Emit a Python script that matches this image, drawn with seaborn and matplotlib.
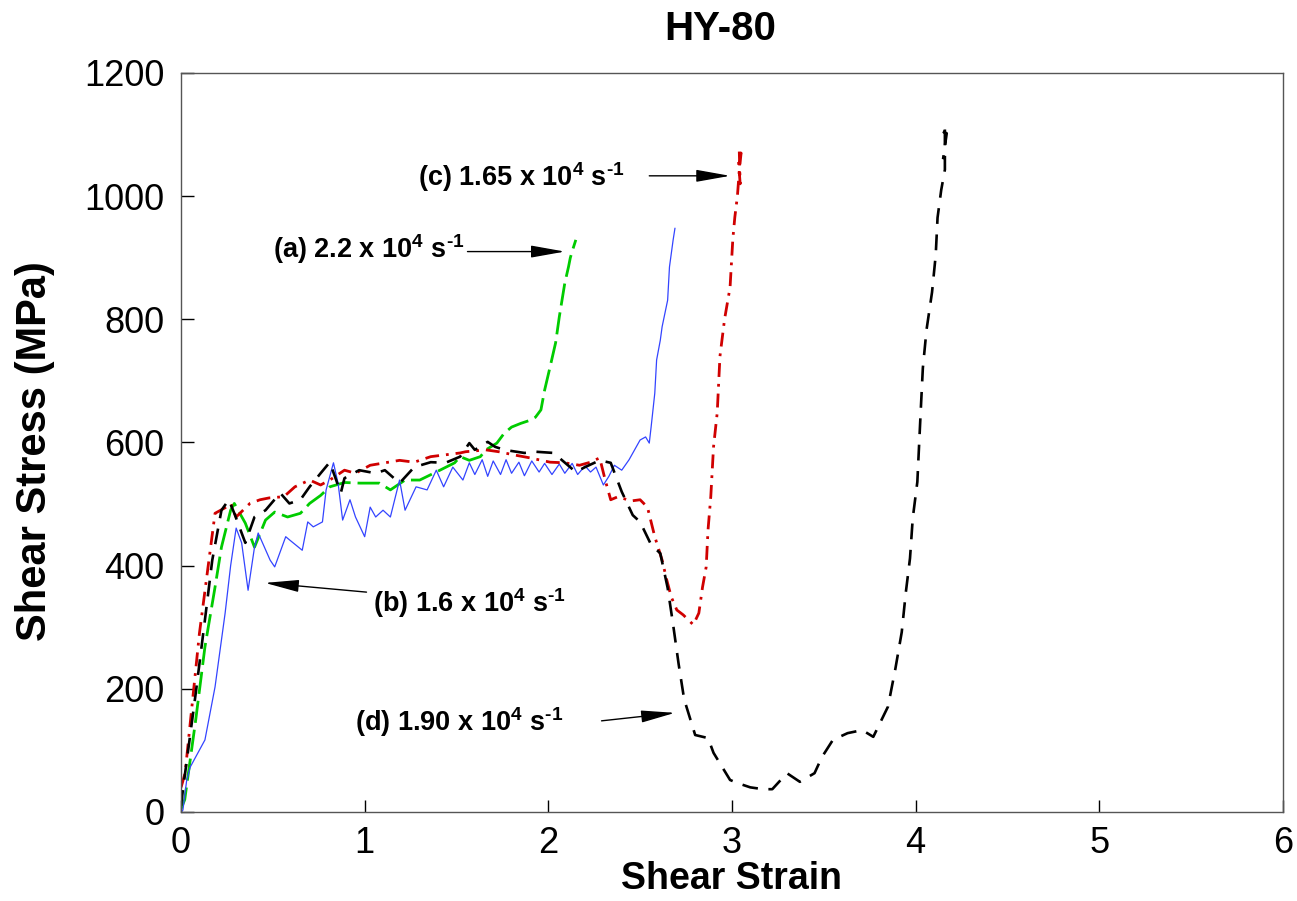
import matplotlib
matplotlib.use('Agg')
import matplotlib.pyplot as plt
import seaborn as sns
import pandas as pd

# --- data ---
# (a) 2.2 x 10^4 1/s  (green, long dash)
a_strain = [0.0, 0.02, 0.08, 0.13, 0.185, 0.22, 0.27, 0.29, 0.35, 0.40, 0.46, 0.51, 0.58, 0.65,
            0.70, 0.76, 0.81, 0.89, 0.975, 1.08, 1.14, 1.22, 1.30, 1.41, 1.49, 1.52, 1.57, 1.63,
            1.66, 1.72, 1.76, 1.80, 1.85, 1.90, 1.93, 1.96, 1.98, 2.01, 2.04, 2.06, 2.09, 2.11,
            2.12, 2.135, 2.15]
a_stress = [5, 20, 150, 268, 365, 430, 490, 501, 469, 430, 474, 487, 479, 485,
            501, 514, 528, 535, 534, 534, 523, 539, 539, 555, 567, 577, 571, 577,
            588, 599, 615, 625, 631, 636, 641, 653, 685, 723, 762, 804, 859, 885,
            900, 915, 929]

# (b) 1.6 x 10^4 1/s  (blue, thin solid)
b_strain = [0.0, 0.01, 0.03, 0.05, 0.09, 0.13, 0.185, 0.24, 0.27, 0.30, 0.33, 0.365, 0.40, 0.42,
            0.485, 0.51, 0.57, 0.59, 0.66, 0.69, 0.72, 0.77, 0.79, 0.83, 0.855, 0.88, 0.92, 0.95,
            1.0, 1.03, 1.06, 1.10, 1.14, 1.19, 1.22, 1.28, 1.34, 1.39, 1.43, 1.48, 1.535, 1.57,
            1.60, 1.64, 1.67, 1.70, 1.74, 1.77, 1.80, 1.84, 1.87, 1.91, 1.95, 1.98, 2.02, 2.06,
            2.09, 2.13, 2.16, 2.20, 2.23, 2.26, 2.30, 2.33, 2.36, 2.40, 2.44, 2.50, 2.53, 2.55,
            2.56, 2.58, 2.59, 2.61, 2.62, 2.65, 2.66, 2.68, 2.69]
b_stress = [0, 3, 50, 73, 95, 117, 203, 323, 400, 461, 437, 360, 430, 453,
            409, 398, 447, 442, 425, 471, 463, 471, 523, 567, 534, 474, 507, 479,
            447, 495, 479, 490, 479, 539, 490, 528, 523, 555, 528, 560, 539, 567,
            548, 572, 545, 570, 548, 572, 550, 568, 546, 570, 552, 566, 548, 565,
            550, 566, 548, 562, 552, 560, 531, 545, 563, 555, 572, 604, 609, 599,
            625, 680, 734, 766, 788, 831, 885, 929, 948]

# (c) 1.65 x 10^4 1/s  (red, dash-dot)
c_strain = [0.0, 0.022, 0.10, 0.185, 0.24, 0.27, 0.30, 0.375, 0.43, 0.48, 0.56, 0.62, 0.70, 0.76,
            0.81, 0.89, 0.95, 1.03, 1.11, 1.19, 1.27, 1.36, 1.44, 1.52, 1.55, 1.66, 1.73, 1.81,
            1.90, 2.01, 2.09, 2.17, 2.23, 2.28, 2.31, 2.34, 2.38, 2.45, 2.50, 2.54, 2.58, 2.62,
            2.645, 2.67, 2.70, 2.735, 2.79, 2.82, 2.84, 2.86, 2.87, 2.885, 2.90, 2.92, 2.935, 2.96,
            2.99, 3.005, 3.016, 3.03, 3.04, 3.05, 3.035, 3.045, 3.04]
c_stress = [40, 63, 290, 485, 494, 501, 479, 501, 507, 510, 512, 528, 539, 531,
            539, 555, 550, 563, 567, 571, 568, 577, 580, 583, 585, 588, 585, 580,
            575, 568, 567, 563, 568, 575, 539, 507, 512, 505, 507, 495, 447, 409,
            377, 349, 328, 320, 304, 323, 365, 398, 458, 512, 593, 648, 740, 800,
            852, 930, 966, 1000, 1040, 1070, 1060, 1020, 1075]

# (d) 1.90 x 10^4 1/s  (black, dashed)
d_strain = [0.00, 0.01, 0.08, 0.13, 0.17, 0.22, 0.26, 0.29, 0.35, 0.40, 0.46, 0.54, 0.59, 0.65,
            0.70, 0.76, 0.81, 0.87, 0.89, 0.97, 1.06, 1.11, 1.19, 1.27, 1.36, 1.44, 1.52, 1.57,
            1.60, 1.67, 1.71, 1.76, 1.87, 1.93, 2.03, 2.06, 2.15, 2.20, 2.28, 2.34, 2.40, 2.46,
            2.50, 2.56, 2.61, 2.65, 2.68, 2.71, 2.74, 2.80, 2.87, 2.90, 2.99, 3.03, 3.10, 3.17,
            3.22, 3.30, 3.37, 3.45, 3.49, 3.55, 3.63, 3.71, 3.77, 3.85, 3.89, 3.925, 3.947, 3.97,
            3.985, 4.01, 4.02, 4.03, 4.04, 4.06, 4.09, 4.11, 4.12, 4.14, 4.16, 4.16, 4.13, 4.17,
            4.15]
d_stress = [10, 36, 193, 312, 409, 490, 507, 485, 437, 479, 490, 518, 501, 507,
            528, 550, 568, 518, 542, 555, 550, 555, 534, 560, 568, 567, 577, 599,
            588, 601, 593, 588, 583, 585, 583, 575, 552, 560, 571, 567, 520, 482,
            471, 434, 420, 364, 304, 240, 183, 125, 120, 96, 52, 47, 40, 37,
            37, 63, 49, 63, 89, 117, 128, 133, 122, 171, 232, 292, 356, 412,
            477, 536, 599, 661, 721, 783, 844, 904, 965, 1010, 1043, 1110, 1107, 1102,
            1060]

x_ticks = [0, 1, 2, 3, 4, 5, 6]
y_ticks = [0, 200, 400, 600, 800, 1000, 1200]

# --- style ---
sns.set_style('ticks')
plt.rcParams['font.family'] = ['Liberation Sans', 'DejaVu Sans']
plt.rcParams['text.color'] = 'black'
plt.rcParams['axes.labelcolor'] = 'black'
plt.rcParams['xtick.color'] = 'black'
plt.rcParams['ytick.color'] = 'black'
plt.rcParams['mathtext.fontset'] = 'custom'
plt.rcParams['mathtext.rm'] = 'Liberation Sans:bold'
plt.rcParams['mathtext.bf'] = 'Liberation Sans:bold'

fig = plt.figure(figsize=(12.97, 9.01), dpi=100)
ax = fig.add_axes([0.1396, 0.0988, 0.8494, 0.8202])

curves = [
    (a_strain, a_stress, '#00CC00', 2.0, (0, (8, 2.5))),
    (b_strain, b_stress, '#3344FF', 0.9, '-'),
    (c_strain, c_stress, '#D00000', 2.0, (0, (5, 2.5, 1, 2.5))),
    (d_strain, d_stress, 'black', 1.9, (0, (6, 4))),
]
for xs, ys, col, lw, ls in curves:
    df = pd.DataFrame({'strain': xs, 'stress': ys})
    sns.lineplot(data=df, x='strain', y='stress', sort=False, estimator=None,
                 color=col, lw=lw, linestyle=ls, ax=ax)

# --- labels / annotations ---
lab = dict(fontsize=19.5, fontweight='bold', va='baseline', ha='left')
arw = dict(arrowstyle='-|>,head_length=1.4,head_width=0.25', mutation_scale=15,
           color='black', lw=1, shrinkA=0, shrinkB=0)
sup = r' x 10$^{4}$ s$^{\text{-}1}$'

ax.text(0.50, 900, '(a) 2.2' + sup, **lab)
ax.annotate('', xy=(2.09, 910), xytext=(1.56, 910), arrowprops=arw)

ax.text(1.29, 1017, '(c) 1.65' + sup, **lab)
ax.annotate('', xy=(2.99, 1033), xytext=(2.55, 1033), arrowprops=arw)

ax.text(1.045, 325, '(b) 1.6' + sup, **lab)
ax.annotate('', xy=(0.457, 372), xytext=(1.01, 357), arrowprops=arw)

ax.text(0.947, 131, '(d) 1.90' + sup, **lab)
ax.annotate('', xy=(2.69, 161), xytext=(2.29, 148), arrowprops=arw)

ax.set_xlim(0, 6)
ax.set_ylim(0, 1200)
ax.set_xticks(x_ticks)
ax.set_yticks(y_ticks)
ax.tick_params(direction='in', length=9, width=1, labelsize=26, pad=10)
ax.tick_params(axis='y', pad=12)
for sp in ax.spines.values():
    sp.set_visible(True)
    sp.set_color('#555555')
    sp.set_linewidth(1)

ax.set_xlabel('Shear Strain', fontsize=27, fontweight='bold', labelpad=0)
ax.set_ylabel('Shear Stress (MPa)', fontsize=30, fontweight='bold')
ax.yaxis.set_label_coords(-0.114, 0.4885)
ax.set_title('HY-80', fontsize=29, fontweight='bold', pad=24, x=0.489)

fig.savefig('out.png', dpi=100)
